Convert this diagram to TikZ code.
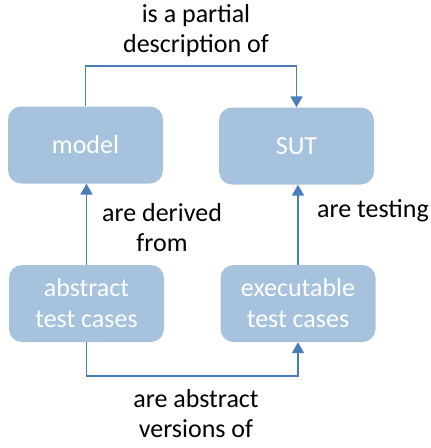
\documentclass[tikz,border=0pt]{standalone}
\usepackage{fontspec}
\setmainfont{Carlito}
\usetikzlibrary{arrows.meta}
\definecolor{boxfill}{HTML}{A6C2DD}
\definecolor{linkblue}{HTML}{4A7EBB}
\begin{document}
\begin{tikzpicture}[x=1pt,y=-1pt,
  box/.style={fill=boxfill, rounded corners=13pt, minimum width=155pt,
    minimum height=77pt, inner sep=0pt, align=center, text=white,
    font=\fontsize{26}{31}\selectfont},
  conn/.style={draw=linkblue, line width=1.8pt,
    -{Triangle[width=12pt,length=11pt]}},
  lbl/.style={inner sep=0pt, align=center, text=black,
    font=\fontsize{26}{30}\selectfont}]
\useasboundingbox (0,0) rectangle (431,448);

% the four artefacts
\node[box] (model) at (85.5,145) {model};
\node[box] (sut)   at (296.5,146) {SUT};
\node[box] (atc)   at (86.5,303.5) {abstract\\test cases};
\node[box] (etc)   at (298,303.5) {executable\\test cases};

% relations between them
\draw[conn] (model.north) -- ++(0,-40) -| (sut.north);
\draw[conn] (atc.north) -- (atc.north |- model.south);
\draw[conn] (etc.north) -- (etc.north |- sut.south);
\draw[conn] (atc.south) -- ++(0,34) -| (etc.south);

% relation labels
\node[lbl] (l1) at (196,31) {is a partial\\description of};
\node[lbl] (l2) at (162,228) {are derived\\from};
\node[lbl, anchor=base west] (l3) at (317,217) {are testing};
\node[lbl] (l4) at (196,413.5) {are abstract\\versions of};
\end{tikzpicture}
\end{document}
